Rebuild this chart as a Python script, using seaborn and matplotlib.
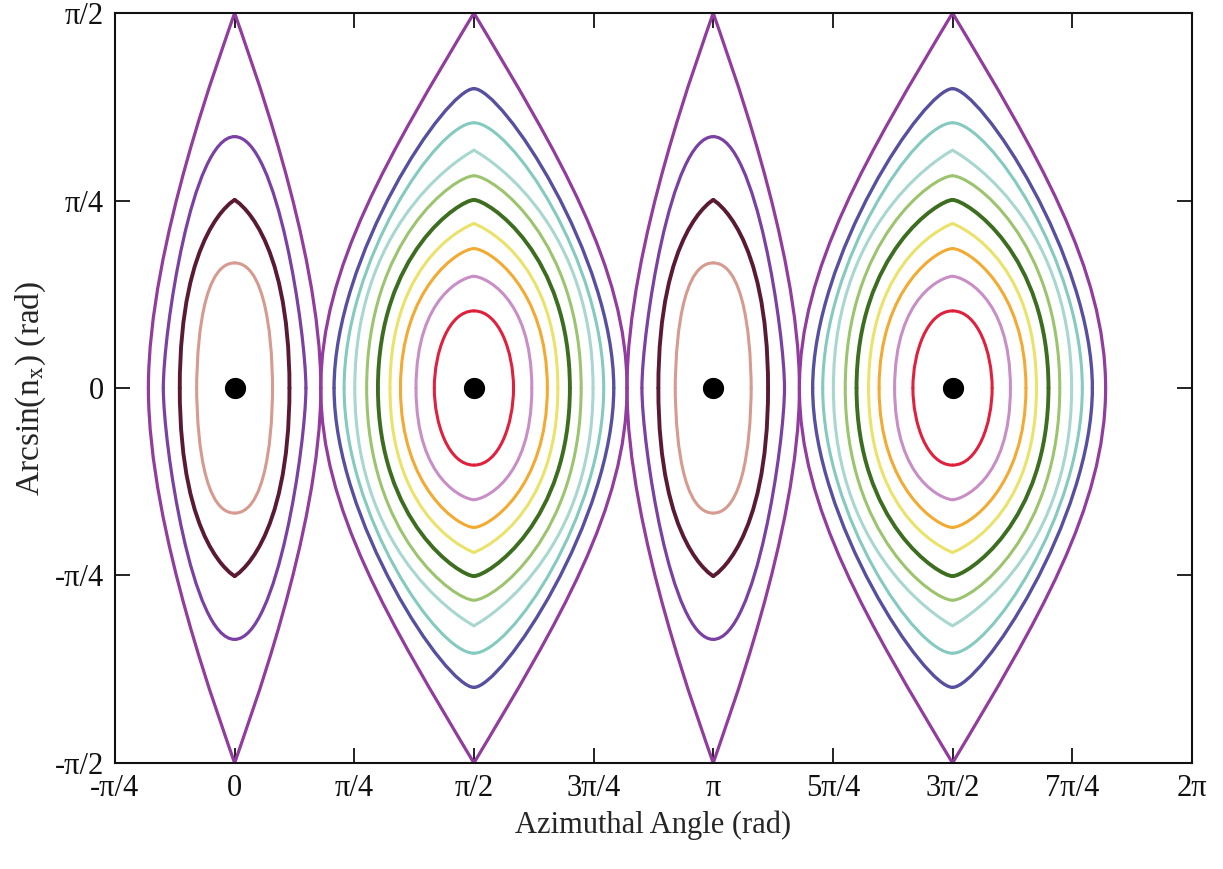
import numpy as np
import matplotlib
matplotlib.use('Agg')
import seaborn as sns
from matplotlib import pyplot as plt
from matplotlib.path import Path
from matplotlib.patches import PathPatch

# lobe centres (rad) and the fixed points drawn as dots
narrow_centres = [0.0, np.pi]
wide_centres = [np.pi / 2, 3 * np.pi / 2]
dot_phi = [0.0, np.pi / 2, np.pi, 3 * np.pi / 2]
dot_th = [0.0, 0.0, 0.0, 0.0]

# upper-right quarter of every orbit:
# azimuth offset from the lobe centre vs arcsin(n_x)
# -- narrow lobes (around 0 and pi)
n1_phi = [0.249, 0.232, 0.178, 0.0]
n1_th = [0.0, 0.199, 0.392, 0.524]
n2_phi = [0.360, 0.348, 0.319, 0.210, 0.0]
n2_th = [0.0, 0.199, 0.392, 0.589, 0.788]
n3_phi = [0.468, 0.447, 0.418, 0.338, 0.254, 0.164, 0.0]
n3_th = [0.0, 0.199, 0.392, 0.589, 0.786, 0.988, 1.053]
n4_phi = [0.566, 0.556, 0.505, 0.447, 0.374, 0.305, 0.206, 0.0]
n4_th = [0.0, 0.199, 0.392, 0.589, 0.786, 0.988, 1.176, np.pi / 2]
# -- wide lobes (around pi/2 and 3pi/2)
w1_phi = [0.260, 0.227, 0.145, 0.0]
w1_th = [0.0, 0.157, 0.270, 0.323]
w2_phi = [0.380, 0.345, 0.196, 0.0]
w2_th = [0.0, 0.199, 0.392, 0.468]
w3_phi = [0.482, 0.452, 0.335, 0.0]
w3_th = [0.0, 0.199, 0.392, 0.584]
w4_phi = [0.551, 0.445, 0.216, 0.0]
w4_th = [0.0, 0.392, 0.589, 0.689]
w5_phi = [0.630, 0.533, 0.370, 0.0]
w5_th = [0.0, 0.392, 0.589, 0.788]
w6_phi = [0.704, 0.632, 0.475, 0.262, 0.0]
w6_th = [0.0, 0.392, 0.589, 0.786, 0.889]
w7_phi = [0.782, 0.720, 0.562, 0.370, 0.0]
w7_th = [0.0, 0.392, 0.589, 0.786, 0.996]
w8_phi = [0.852, 0.785, 0.653, 0.445, 0.304, 0.0]
w8_th = [0.0, 0.392, 0.589, 0.786, 0.988, 1.111]
w9_phi = [0.918, 0.851, 0.730, 0.524, 0.380, 0.190, 0.0]
w9_th = [0.0, 0.392, 0.589, 0.786, 0.988, 1.176, 1.254]
w10_phi = [1.005, 0.975, 0.933, 0.828, 0.671, 0.540, 0.370, 0.0]
w10_th = [0.0, 0.199, 0.392, 0.589, 0.786, 0.988, 1.176, np.pi / 2]

x_ticks = [k * np.pi / 4 for k in range(-1, 9)]
x_labels = ['-π/4', '0', 'π/4', 'π/2', '3π/4', 'π', '5π/4', '3π/2', '7π/4', '2π']
y_ticks = [-np.pi / 2, -np.pi / 4, 0, np.pi / 4, np.pi / 2]
y_labels = ['-π/2', '-π/4', '0', 'π/4', 'π/2']

# (phi, theta, colour, linewidth, separatrix?)
narrow_orbits = [
    (n1_phi, n1_th, '#d69a8f', 2.2, False),
    (n2_phi, n2_th, '#5b1a34', 2.8, False),
    (n3_phi, n3_th, '#7a40a2', 2.3, False),
    (n4_phi, n4_th, '#923c9e', 2.3, True),
]
wide_orbits = [
    (w1_phi, w1_th, '#e0213e', 2.2, False),
    (w2_phi, w2_th, '#c98ec6', 2.2, False),
    (w3_phi, w3_th, '#f2aa32', 2.2, False),
    (w4_phi, w4_th, '#ebe26a', 2.2, False),
    (w5_phi, w5_th, '#3d6e1f', 2.8, False),
    (w6_phi, w6_th, '#9cc46e', 2.2, False),
    (w7_phi, w7_th, '#a8d7d0', 2.2, False),
    (w8_phi, w8_th, '#84cabf', 2.2, False),
    (w9_phi, w9_th, '#574f9f', 2.4, False),
    (w10_phi, w10_th, '#923c9e', 2.3, True),
]

# bernstein weights for sampling a cubic when fitting
tt = np.linspace(0, 1, 121)[:, None]
bern = [(1 - tt) ** 3, 3 * (1 - tt) ** 2 * tt, 3 * (1 - tt) * tt ** 2, tt ** 3]
px_scale = np.array([152.0, 238.0])  # screen px per rad, x and y


def quarter_path(phi, th, sharp):
    # one smooth cubic from (a, 0) to (0, b) that best follows the read points
    pts = np.column_stack([phi, th]).astype(float)
    p0, p3 = pts[0], pts[-1]
    a, b = p0[0], p3[1]
    if sharp:
        k2_grid = np.linspace(0.0, 3.0, 61)
    else:
        k2_grid = np.linspace(0.0, 1.2, 61)
    best, best_ctrl = np.inf, None
    for k1 in np.linspace(0.0, 1.2, 61):
        p1 = np.array([a, k1 * b])
        for k2 in k2_grid:
            if sharp:
                p2 = p3 + k2 * (pts[-2] - p3) / 2
            else:
                p2 = np.array([k2 * a, b])
            curve = bern[0] * p0 + bern[1] * p1 + bern[2] * p2 + bern[3] * p3
            d = (((curve[None] - pts[:, None]) * px_scale) ** 2).sum(-1).min(1).sum()
            if d < best:
                best, best_ctrl = d, (p1, p2)
    verts = np.array([p0, best_ctrl[0], best_ctrl[1], p3])
    codes = [Path.MOVETO, Path.CURVE4, Path.CURVE4, Path.CURVE4]
    return verts, codes


def draw_orbits(ax, centres, orbits):
    for phi, th, col, lw, sharp in orbits:
        verts, codes = quarter_path(phi, th, sharp)
        for c in centres:
            for sx, sy in [(1, 1), (-1, 1), (-1, -1), (1, -1)]:
                v = verts * [sx, sy] + [c, 0]
                ax.add_patch(PathPatch(Path(v, codes), fill=False, edgecolor=col,
                                       lw=lw, capstyle='round', joinstyle='round'))


sns.set_theme(style='ticks')
plt.rcParams['font.family'] = ['Liberation Serif', 'DejaVu Serif']
plt.rcParams['mathtext.fontset'] = 'stix'

fig = plt.figure(figsize=(12.23, 8.69), dpi=100)
ax = fig.add_axes([0.094, 0.122, 0.8805, 0.863])

draw_orbits(ax, narrow_centres, narrow_orbits)
draw_orbits(ax, wide_centres, wide_orbits)
sns.scatterplot(x=dot_phi, y=dot_th, color='black', s=200, edgecolor='black',
                zorder=5, legend=False, ax=ax)

ax.set_xlim(-np.pi / 4, 2 * np.pi)
ax.set_ylim(-np.pi / 2, np.pi / 2)
ax.set_xticks(x_ticks)
ax.set_xticklabels(x_labels)
ax.set_yticks(y_ticks)
ax.set_yticklabels(y_labels)
ax.tick_params(direction='in', top=True, right=True, length=11, width=1.3,
               labelsize=22, pad=8, colors='#111111')
for s in ax.spines.values():
    s.set_linewidth(1.5)
    s.set_color('#111111')

ax.set_xlabel('Azimuthal Angle (rad)', fontsize=22, labelpad=5)
ax.set_ylabel('Arcsin(n$_\\mathrm{x}$) (rad)', fontsize=24, labelpad=5)

fig.savefig('out.png', dpi=100)
